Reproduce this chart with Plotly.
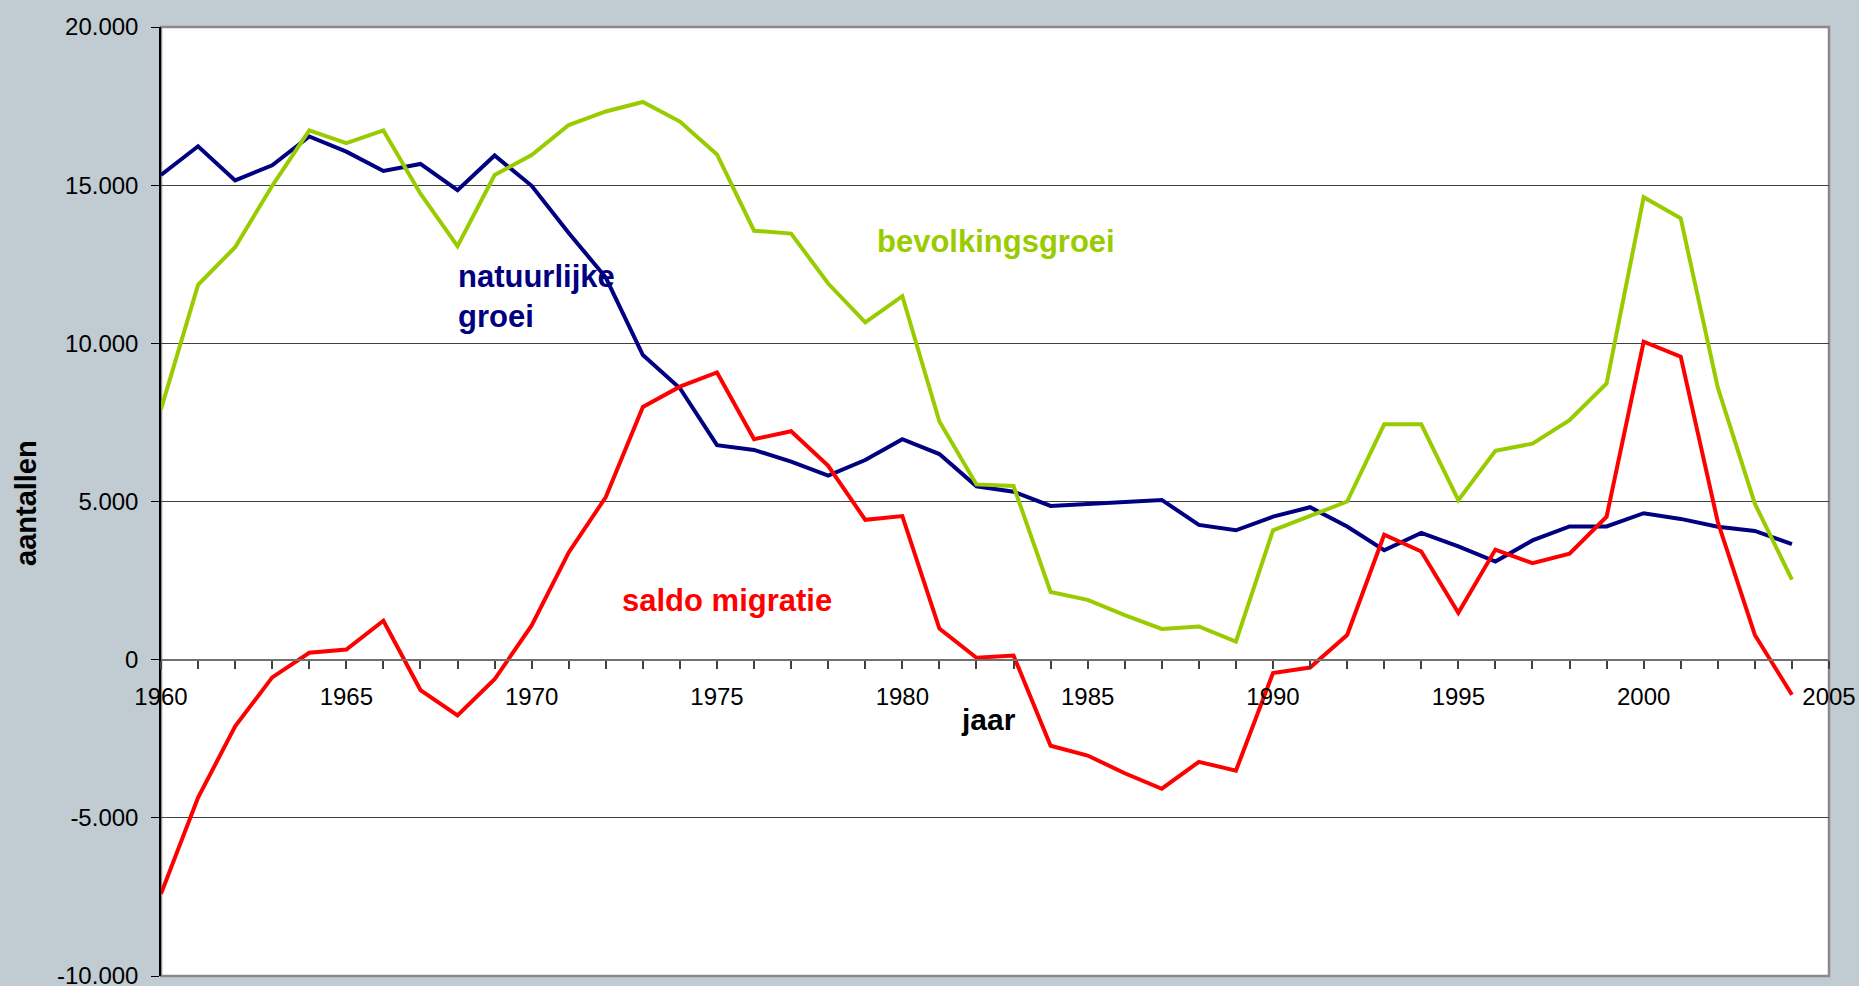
import plotly.graph_objects as go

years = list(range(1960, 2005))

natuurlijke_groei = [15320, 16230, 15150, 15630, 16540, 16060, 15450, 15670, 14840, 15940,
                     14980, 13490, 12080, 9630, 8580, 6780, 6630, 6260, 5820, 6310,
                     6970, 6500, 5480, 5310, 4860, 4920, 4990, 5050, 4260, 4090,
                     4520, 4820, 4210, 3460, 4010, 3580, 3100, 3770, 4210, 4210,
                     4630, 4450, 4200, 4070, 3650]

bevolkingsgroei = [7920, 11850, 13040, 14980, 16730, 16330, 16730, 14730, 13070, 15320,
                   15950, 16900, 17330, 17630, 17010, 15970, 13560, 13470, 11890, 10660,
                   11490, 7530, 5540, 5490, 2140, 1890, 1410, 970, 1050, 570,
                   4090, 4550, 5000, 7440, 7440, 5040, 6600, 6830, 7570, 8730,
                   14620, 13950, 8600, 4930, 2530]

saldo_migratie = [-7400, -4360, -2110, -560, 220, 320, 1230, -960, -1760, -620,
                  1080, 3390, 5140, 7990, 8630, 9080, 6970, 7220, 6130, 4420,
                  4540, 980, 60, 130, -2720, -3030, -3590, -4080, -3230, -3510,
                  -420, -250, 780, 3950, 3420, 1480, 3480, 3050, 3350, 4520,
                  10050, 9580, 4350, 780, -1110]

y_tick_vals = [-10000, -5000, 0, 5000, 10000, 15000, 20000]
y_tick_text = ["-10.000", "-5.000", "0", "5.000", "10.000", "15.000", "20.000"]
x_tick_vals = [1960, 1965, 1970, 1975, 1980, 1985, 1990, 1995, 2000, 2005]
x_tick_text = [str(v) for v in x_tick_vals]

series_names = ["natuurlijke groei", "bevolkingsgroei", "saldo migratie"]
series_colors = ["#000080", "#99CC00", "#FF0000"]

FONT = "Liberation Sans, Arial, Helvetica, sans-serif"

fig = go.Figure()
for name, vals, col in zip(series_names, [natuurlijke_groei, bevolkingsgroei, saldo_migratie], series_colors):
    fig.add_trace(go.Scatter(x=years, y=vals, mode="lines", name=name,
                             line=dict(color=col, width=4)))

W, H = 1859, 986
fig.update_layout(
    width=W, height=H,
    margin=dict(l=161, r=30, t=27, b=10),
    paper_bgcolor="#C0CBD2",
    plot_bgcolor="#FFFFFF",
    showlegend=False,
    font=dict(family=FONT, color="#000000"),
    xaxis=dict(
        range=[1960, 2005],
        anchor="free", position=1/3,
        automargin=False,
        showgrid=False, zeroline=False,
        showline=True, linecolor="#707070", linewidth=2,
        tickmode="array", tickvals=x_tick_vals, ticktext=x_tick_text,
        ticks="outside", ticklen=8, tickwidth=1.5, tickcolor="#404040",
        minor=dict(dtick=1, ticks="outside", ticklen=8, tickwidth=1.5, tickcolor="#404040", showgrid=False),
        tickfont=dict(size=24, family=FONT, color="#000000"),
        ticklabelstandoff=8,
        ticklabeloverflow="allow",
    ),
    yaxis=dict(
        range=[-10000, 20000],
        automargin=False,
        showgrid=True, gridcolor="#404040", gridwidth=1.2,
        zeroline=False,
        showline=True, linecolor="#000000", linewidth=1.5,
        tickmode="array", tickvals=y_tick_vals, ticktext=y_tick_text,
        ticks="outside", ticklen=8, tickwidth=1.2, tickcolor="#000000",
        tickfont=dict(size=24, family=FONT, color="#000000"),
        ticklabelstandoff=8,
        ticklabeloverflow="allow",
    ),
    shapes=[dict(type="rect", xref="paper", yref="paper", x0=0, x1=1, y0=0, y1=1,
                 line=dict(color="#8A8A8A", width=2.5), layer="below")],
)

annots = [
    dict(text="natuurlijke<br>groei", x=1967.97, y=11490, xanchor="left", yanchor="middle",
         align="left", font=dict(size=31, color="#000080", family=FONT, weight="bold")),
    dict(text="bevolkingsgroei", x=1979.26, y=13230, xanchor="left", yanchor="middle",
         font=dict(size=31, color="#99CC00", family=FONT, weight="bold")),
    dict(text="saldo migratie", x=1972.39, y=1855, xanchor="left", yanchor="middle",
         font=dict(size=31, color="#FF0000", family=FONT, weight="bold")),
]
for a in annots:
    fig.add_annotation(showarrow=False, xref="x", yref="y", **a)

fig.add_annotation(text="jaar", showarrow=False, xref="paper", yref="paper",
                   x=(988 - 161) / (W - 161 - 30), y=(976 - 719) / (976 - 27),
                   xanchor="center", yanchor="middle",
                   font=dict(size=30, family=FONT, color="#000000", weight="bold"))
fig.add_annotation(text="aantallen", showarrow=False, xref="paper", yref="paper",
                   x=(26 - 161) / (W - 161 - 30), y=(976 - 503) / (976 - 27),
                   xanchor="center", yanchor="middle", textangle=-90,
                   font=dict(size=29, family=FONT, color="#000000", weight="bold"))

fig.write_html("out.html", config={"displayModeBar": False},
               post_script="document.body.style.margin='0';document.body.style.padding='0';document.body.style.overflow='hidden';")
